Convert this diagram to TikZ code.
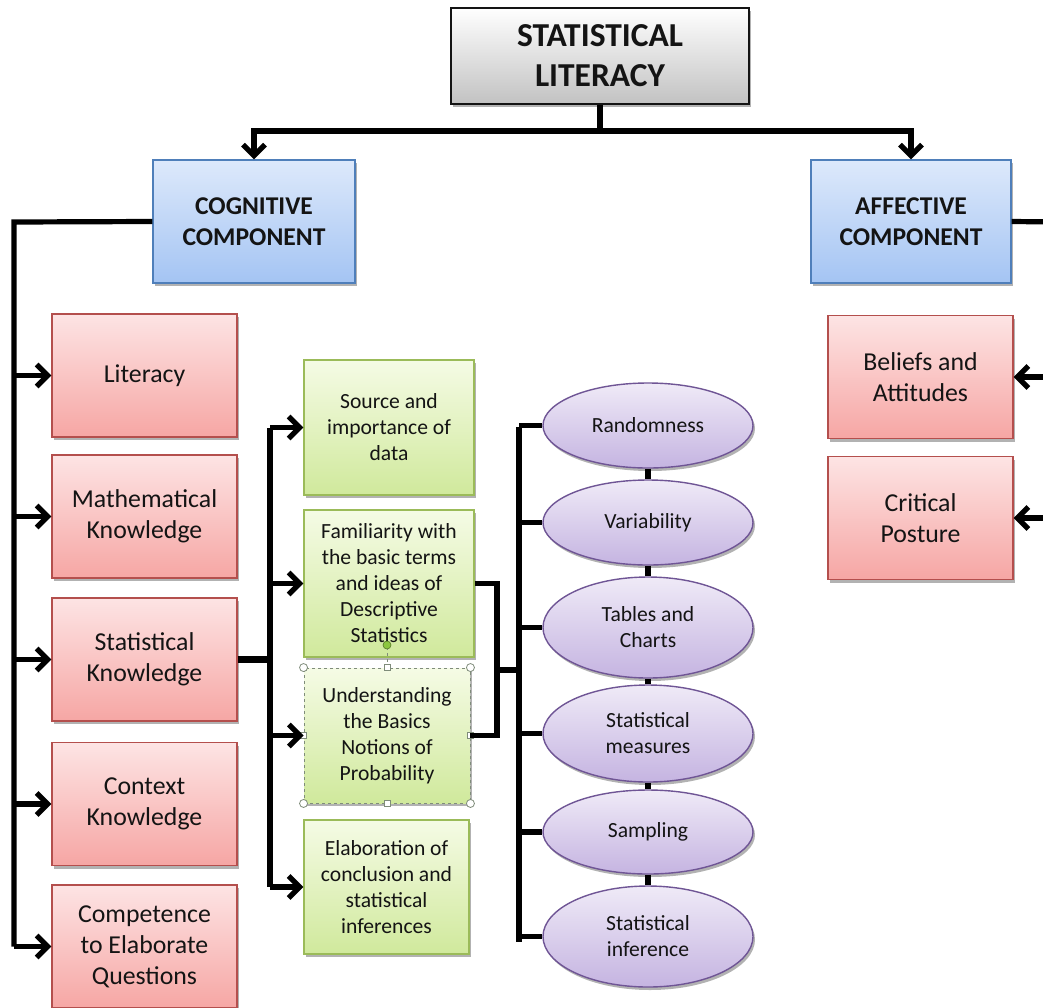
\documentclass[tikz,border=0pt]{standalone}
\usepackage{fontspec}
\setmainfont{Carlito}
\usetikzlibrary{arrows.meta,shapes.geometric,shadows}

\definecolor{inkc}{HTML}{141414}
\definecolor{titletop}{HTML}{FFFFFF}
\definecolor{titlebot}{HTML}{C2C2C2}
\definecolor{bluetop}{HTML}{DDE9FB}
\definecolor{bluebot}{HTML}{A4C4F3}
\definecolor{blueedge}{HTML}{4F7FBA}
\definecolor{redtop}{HTML}{FDE4E4}
\definecolor{redbot}{HTML}{F6A6A4}
\definecolor{rededge}{HTML}{B44F4D}
\definecolor{greentop}{HTML}{F5FBE5}
\definecolor{greenbot}{HTML}{D0E99C}
\definecolor{greenedge}{HTML}{9BBB59}
\definecolor{purptop}{HTML}{EFEAF7}
\definecolor{purpbot}{HTML}{C5B4E1}
\definecolor{purpedge}{HTML}{6F5595}
\definecolor{handleedge}{HTML}{7F8C7A}
\definecolor{rotdot}{HTML}{8CC63F}

\tikzset{
  boxshadow/.style={drop shadow={shadow xshift=2pt,shadow yshift=-3pt,opacity=0.3,fill=black}},
  titlebox/.style={draw=inkc,line width=1.4pt,top color=titletop,bottom color=titlebot,
    boxshadow,inner sep=0pt,align=center,text=inkc,
    font=\bfseries\fontsize{33.5}{40}\selectfont},
  compbox/.style={draw=blueedge,line width=1.4pt,top color=bluetop,bottom color=bluebot,
    boxshadow,inner sep=0pt,align=center,text=inkc,
    minimum width=202pt,minimum height=123pt,
    font=\bfseries\fontsize{25.6}{31}\selectfont},
  redbox/.style={draw=rededge,line width=1.4pt,top color=redtop,bottom color=redbot,
    boxshadow,inner sep=0pt,align=center,text=inkc,
    minimum width=185pt,minimum height=123pt,
    font=\fontsize{25.8}{31}\selectfont},
  greenbox/.style={draw=greenedge,line width=1.4pt,top color=greentop,bottom color=greenbot,
    boxshadow,inner sep=0pt,align=center,text=inkc,
    minimum width=170pt,
    font=\fontsize{21.6}{26}\selectfont},
  oval/.style={ellipse,draw=purpedge,line width=1.4pt,top color=purptop,bottom color=purpbot,
    boxshadow,inner sep=0pt,align=center,text=inkc,
    minimum width=210pt,
    font=\fontsize{21.6}{26}\selectfont},
  link/.style={draw=black,line width=5.2pt},
  arrowlink/.style={link,-{Straight Barb[length=11pt,width=22pt]}},
  handle/.style={draw=handleedge,fill=white,line width=0.8pt,inner sep=0pt},
}

\begin{document}
\begin{tikzpicture}[x=1pt,y=-1pt]
\useasboundingbox (0,0) rectangle (1043,1007);
\fill[white] (0,0) rectangle (1043,1007);
\clip (0,0) rectangle (1043,1007);

% ---- boxes ----
\node[titlebox,minimum width=298pt,minimum height=96pt] (title) at (600,56) {STATISTICAL\\LITERACY};

\node[compbox] (cog) at (254,221.5) {COGNITIVE\\COMPONENT};
\node[compbox,minimum width=200pt] (aff) at (911,221.5) {AFFECTIVE\\COMPONENT};

\node[redbox] (lit)  at (144.5,375.5) {Literacy};
\node[redbox] (math) at (144.5,516.5) {Mathematical\\Knowledge};
\node[redbox] (stat) at (144.5,659.5) {Statistical\\Knowledge};
\node[redbox] (ctx)  at (144.5,804)   {Context\\Knowledge};
\node[redbox] (comp) at (144.5,946.5) {Competence\\to Elaborate\\Questions};

\node[redbox] (bel)  at (920.5,377) {Beliefs and\\Attitudes};
\node[redbox] (crit) at (920.5,518) {Critical\\Posture};

\node[greenbox,minimum height=135pt] (src)  at (389,427.5) {Source and\\importance of\\data};
\node[greenbox,minimum height=147pt] (fam)  at (389,583.5) {Familiarity with\\the basic terms\\and ideas of\\Descriptive\\Statistics};
\node[greenbox,minimum width=166pt,minimum height=135pt,dashed,draw=handleedge,line width=0.9pt] (und)
  at (387,735.5) {Understanding\\the Basics\\Notions of\\Probability};
\node[greenbox,minimum width=165pt,minimum height=134pt] (elab) at (386.5,887) {Elaboration of\\conclusion and\\statistical\\inferences};

\node[oval,minimum height=85pt]  (rand) at (648,425.5) {Randomness};
\node[oval,minimum height=85pt]  (var)  at (648,522.5) {Variability};
\node[oval,minimum height=101pt] (tab)  at (648,627.5) {Tables and\\Charts};
\node[oval,minimum height=97pt]  (meas) at (648,733.5) {Statistical\\measures};
\node[oval,minimum height=84pt]  (samp) at (648,832)   {Sampling};
\node[oval,minimum height=101pt] (inf)  at (648,936.5) {Statistical\\inference};

% ---- selection handles around the probability box ----
\draw[handleedge,dashed,line width=0.8pt] (und.north) -- (387,649);
\fill[rotdot] (387,645) circle (4pt);
\draw[rotdot!60!black,line width=0.6pt] (387,645) circle (4pt);
\foreach \c in {north west,north east,south west,south east}
  \node[handle,circle,minimum size=8pt] at (und.\c) {};
\foreach \s in {north,south,east,west}
  \node[handle,rectangle,minimum size=6pt] at (und.\s) {};

% ---- coordinates for buses ----
\coordinate (tb) at (600,131);
\coordinate (cl) at (14,222);
\coordinate (cb) at (14,946.5);
\coordinate (ar) at (1062,222);
\coordinate (sb) at (270,659.5);
\coordinate (gt) at (270,427.5);
\coordinate (gb) at (270,887);
\coordinate (fr) at (497,583.5);
\coordinate (fj) at (497,670);
\coordinate (ej) at (519,670);
\coordinate (et) at (519,427);
\coordinate (eb) at (519,942);

% ---- connectors ----
\draw[link] (title.south) -- (tb);
\draw[arrowlink] (tb) -| (cog.north);
\draw[arrowlink] (tb) -| (aff.north);

% cognitive branch
\draw[link,line join=miter] (cog.west) -- (cl) -- (cb);
\draw[arrowlink] (cb) -- (comp.west);
\foreach \n in {lit,math,stat,ctx}
  \draw[arrowlink] (cl |- \n.west) -- (\n.west);

% affective branch
\draw[link] (aff.east) -- (ar) -- (ar |- crit.east);
\draw[arrowlink] (ar |- bel.east) -- (bel.east);
\draw[arrowlink] (ar |- crit.east) -- (crit.east);

% statistical knowledge branch
\draw[draw=black,line width=7.5pt] (stat.east) -- (sb);
\draw[link] (gt) -- (gb);
\foreach \n in {src,fam,und,elab}
  \draw[arrowlink] (gt |- \n.west) -- (\n.west);

% descriptive statistics / probability to the topics
\draw[link,line join=miter] (fam.east) -- (fr) -- (fr |- und.east) -- (und.east);
\draw[link] (fj) -- (ej);
\draw[link] (et) -- (eb);
\foreach \n in {rand,var,tab,meas,samp,inf}
  \draw[link] (et |- \n.west) -- (\n.west);

% chain between the topics
\draw[link] (rand.south) -- (var.north);
\draw[link] (var.south) -- (tab.north);
\draw[link] (tab.south) -- (meas.north);
\draw[link] (meas.south) -- (samp.north);
\draw[link] (samp.south) -- (inf.north);
\end{tikzpicture}
\end{document}
